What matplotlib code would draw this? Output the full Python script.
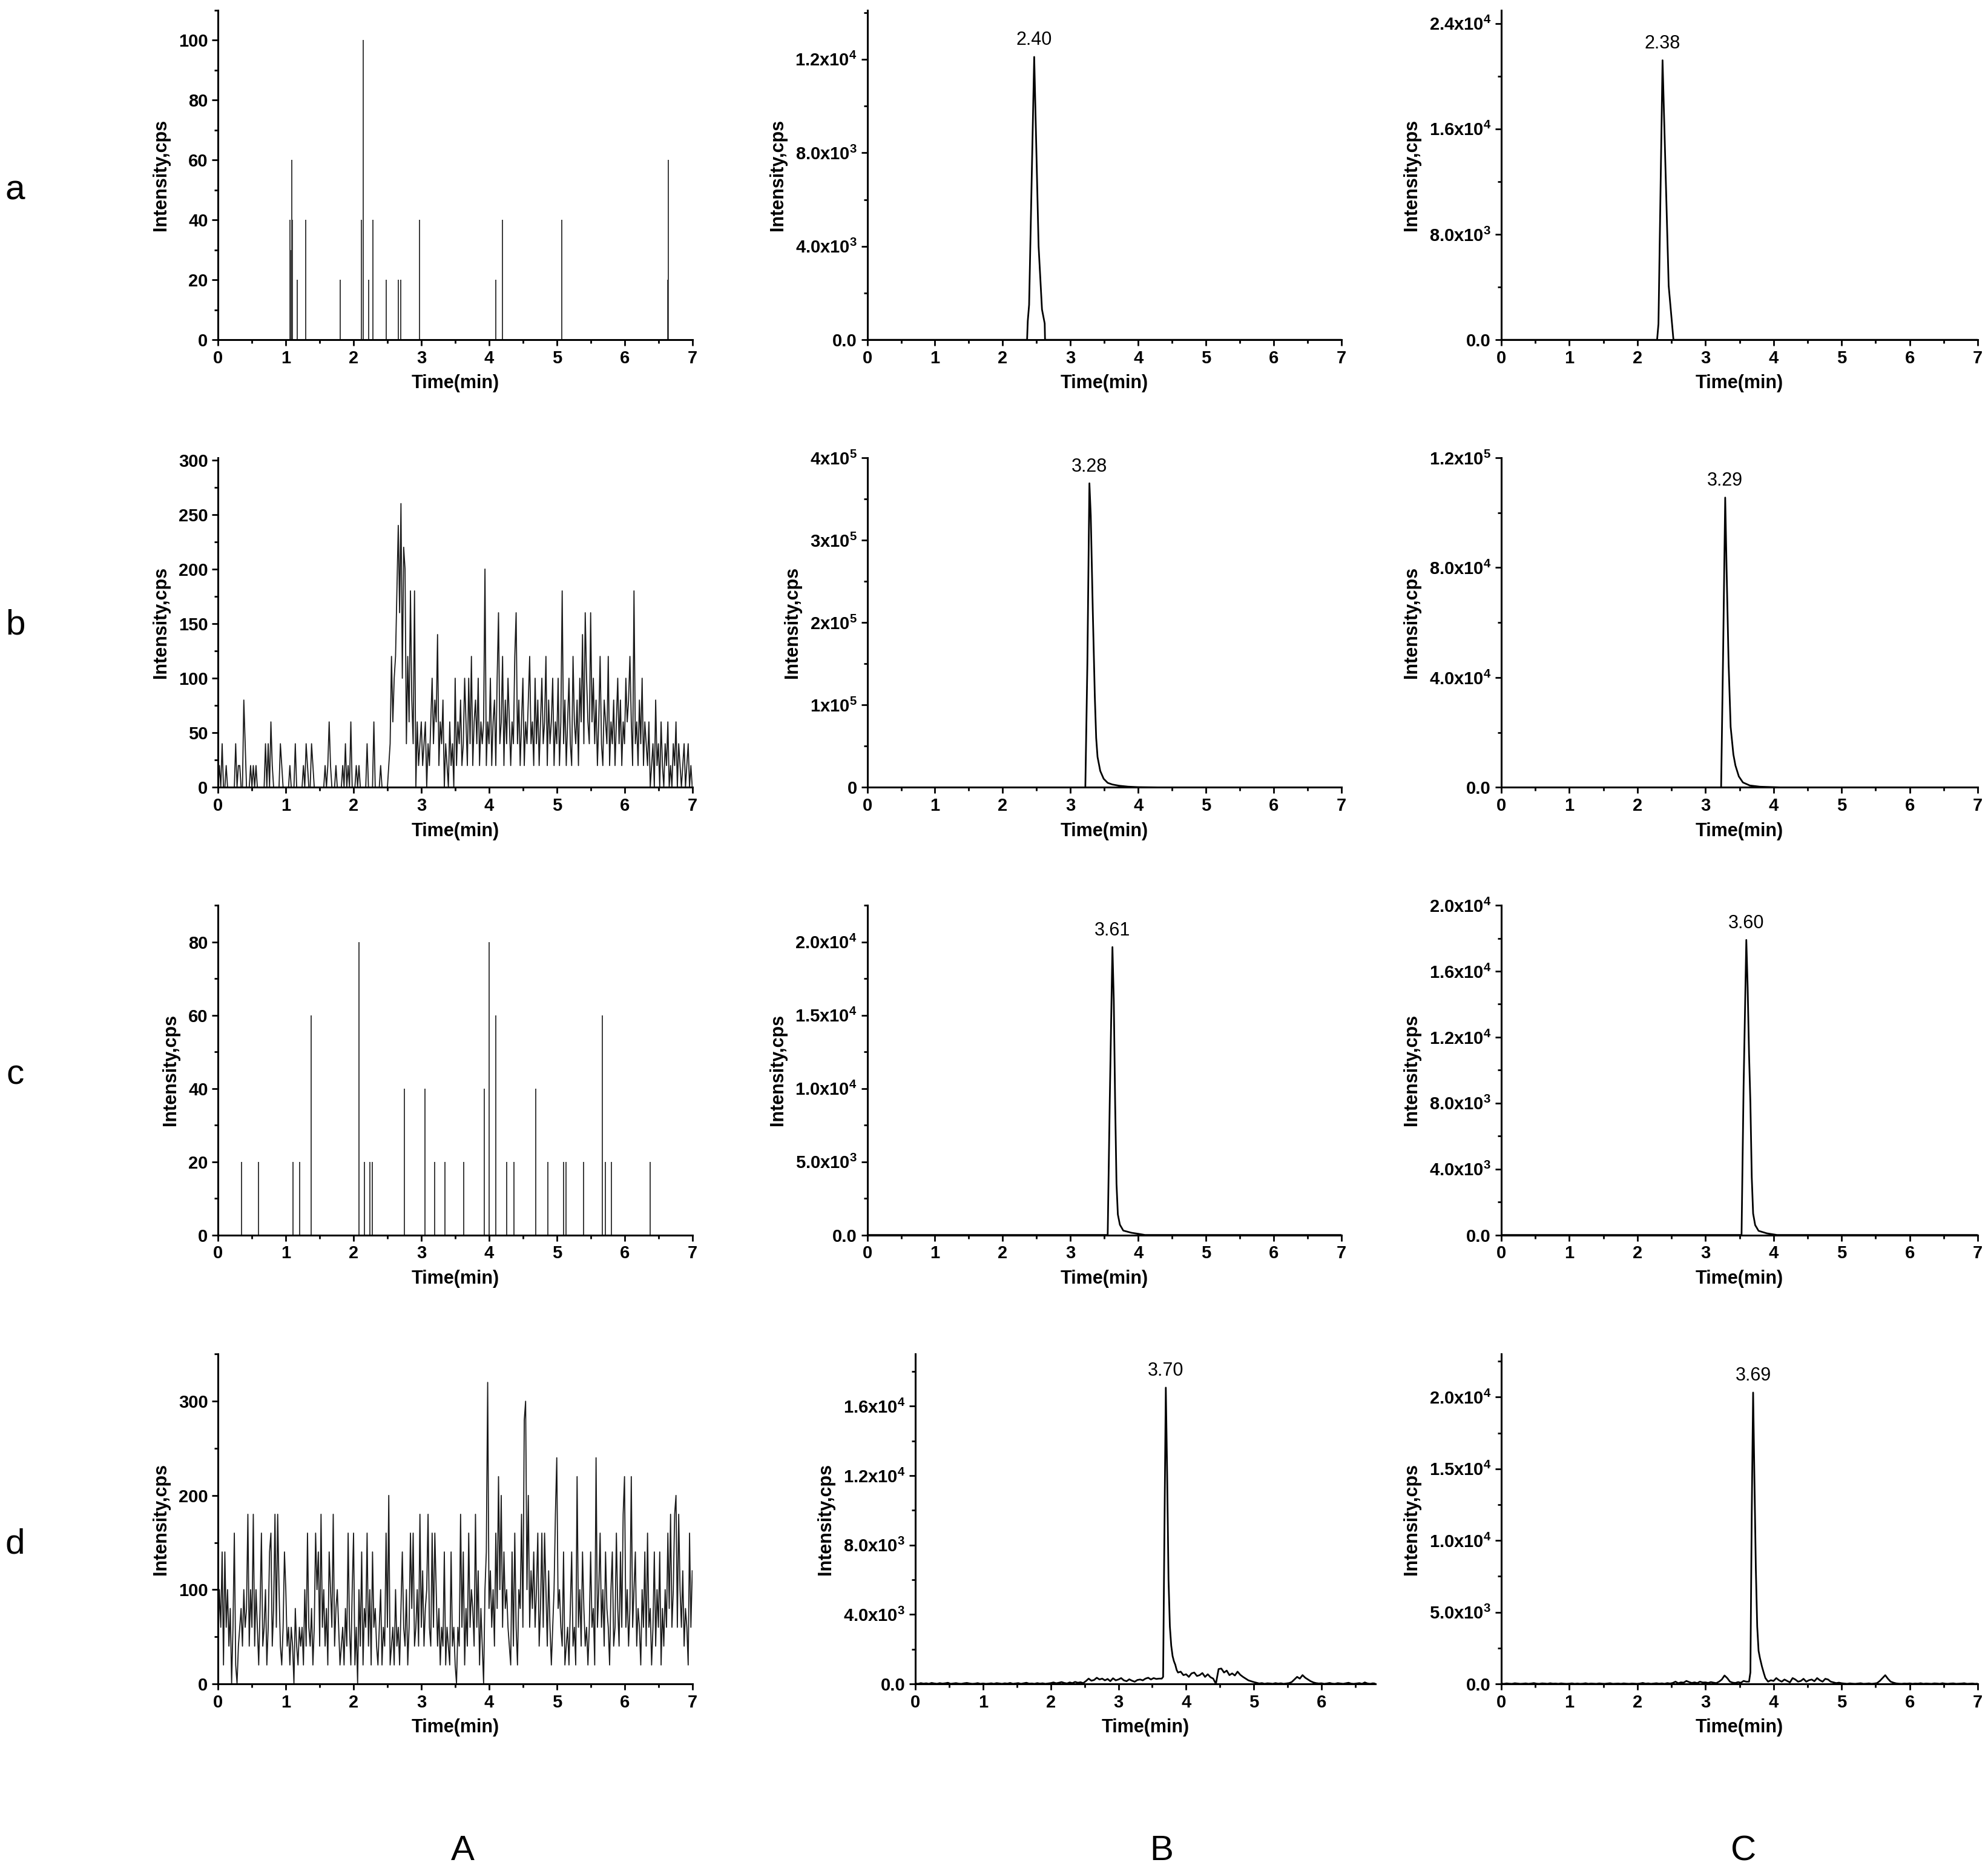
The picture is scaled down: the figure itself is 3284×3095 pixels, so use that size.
import numpy as np
import matplotlib
matplotlib.use('Agg')
import matplotlib.pyplot as plt
from matplotlib.ticker import FixedLocator, FixedFormatter, MultipleLocator

plt.rcParams['font.family'] = ['Liberation Sans', 'DejaVu Sans']
plt.rcParams['font.weight'] = 'bold'
plt.rcParams['mathtext.fontset'] = 'custom'
plt.rcParams['mathtext.rm'] = 'Liberation Sans'
plt.rcParams['mathtext.it'] = 'Liberation Sans:italic'
plt.rcParams['mathtext.bf'] = 'Liberation Sans:bold'

# ---------------- data ----------------
row_letters = ['a', 'b', 'c', 'd']
col_letters = ['A', 'B', 'C']

# Column A (blank noise)
aA_times = [1.06, 1.08, 1.09, 1.10, 1.17, 1.29, 1.80, 2.12, 2.14, 2.22, 2.29, 2.48,
            2.66, 2.70, 2.97, 4.10, 4.20, 5.07, 6.64, 6.65]
aA_heights = [40, 30, 60, 40, 20, 40, 20, 40, 100, 20, 40, 20,
              20, 20, 40, 20, 40, 40, 20, 60]

cA_times = [0.35, 0.60, 1.11, 1.20, 1.37, 2.08, 2.16, 2.24, 2.28, 2.75, 3.05, 3.20, 3.35,
            3.63, 3.93, 4.00, 4.10, 4.26, 4.37, 4.69, 4.87, 5.10, 5.14, 5.40, 5.67, 5.72,
            5.81, 6.38]
cA_heights = [20, 20, 20, 20, 60, 80, 20, 20, 20, 40, 40, 20, 20,
              20, 40, 80, 60, 20, 20, 40, 20, 20, 20, 20, 60, 20,
              20, 20]

bA_step = 0.02
bA_values = [
    0, 20, 0, 40, 0, 0, 20, 0, 0, 0, 0, 0, 0, 40, 0, 20, 20, 0, 0, 80, 40, 0, 0, 0, 20,
    0, 20, 0, 20, 0, 0, 0, 0, 0, 0, 40, 0, 40, 0, 60, 20, 0, 0, 0, 0, 0, 40, 20, 0, 0,
    0, 0, 0, 20, 0, 0, 0, 40, 0, 0, 0, 0, 0, 20, 0, 40, 20, 0, 0, 40, 20, 0, 0, 0, 0,
    0, 0, 0, 0, 20, 0, 20, 60, 20, 0, 0, 0, 20, 0, 0, 0, 0, 20, 0, 40, 0, 20, 0, 60, 0,
    0, 0, 20, 0, 20, 0, 0, 0, 0, 0, 40, 0, 0, 0, 0, 60, 0, 0, 0, 0, 20, 0, 0, 0, 0,
    0, 20, 40, 120, 60, 100, 120, 180, 240, 160, 260, 100, 220, 200, 40, 120, 60, 180, 80, 40, 180, 0, 60, 20, 40,
    60, 20, 40, 60, 0, 40, 20, 60, 100, 40, 80, 60, 140, 20, 60, 40, 80, 0, 40, 20, 0, 60, 20, 40, 0,
    100, 20, 60, 40, 80, 20, 40, 100, 60, 20, 100, 40, 120, 20, 60, 80, 40, 100, 20, 60, 40, 60, 200, 20, 60,
    40, 100, 20, 60, 80, 20, 100, 160, 40, 60, 120, 20, 80, 40, 100, 60, 20, 60, 40, 120, 160, 40, 80, 20, 60,
    100, 20, 60, 40, 80, 120, 40, 60, 20, 100, 40, 80, 20, 60, 100, 40, 60, 120, 20, 80, 40, 60, 100, 20, 60,
    40, 100, 20, 60, 180, 40, 80, 20, 60, 100, 40, 20, 120, 60, 40, 80, 20, 100, 60, 140, 40, 160, 100, 60, 40,
    160, 60, 100, 40, 80, 20, 60, 120, 40, 20, 80, 60, 40, 120, 20, 60, 40, 80, 20, 60, 100, 40, 80, 20, 60,
    40, 100, 60, 80, 120, 60, 20, 180, 40, 60, 20, 80, 40, 100, 20, 60, 40, 20, 60, 0, 20, 40, 0, 80, 20,
    40, 0, 60, 20, 0, 40, 20, 60, 0, 20, 0, 40, 20, 60, 0, 40, 20, 0, 20, 40, 0, 20, 40, 0, 20,
    0]

dA_step = 0.02
dA_values = [
    40, 100, 60, 140, 20, 140, 60, 100, 40, 80, 0, 60, 160, 20, 0, 40, 60, 80, 40, 100, 60, 80, 180, 40, 100,
    60, 180, 40, 100, 60, 20, 80, 160, 40, 60, 100, 20, 60, 140, 160, 40, 80, 180, 60, 180, 100, 40, 20, 60, 140,
    100, 40, 60, 20, 60, 40, 0, 80, 40, 20, 60, 40, 60, 20, 100, 40, 160, 60, 40, 80, 20, 60, 160, 100, 140,
    40, 180, 60, 100, 40, 80, 20, 140, 100, 60, 180, 40, 80, 100, 60, 20, 40, 60, 20, 80, 40, 160, 60, 20, 100,
    160, 20, 60, 0, 100, 40, 140, 20, 80, 60, 160, 40, 100, 20, 140, 60, 80, 40, 20, 60, 100, 20, 60, 40, 160,
    60, 200, 20, 40, 60, 20, 100, 40, 60, 20, 80, 140, 60, 40, 100, 20, 60, 160, 80, 160, 40, 60, 100, 40, 180,
    60, 120, 40, 80, 100, 180, 60, 40, 160, 60, 160, 100, 40, 80, 20, 60, 40, 140, 20, 60, 40, 20, 140, 40, 60,
    20, 0, 60, 40, 180, 60, 140, 20, 80, 40, 160, 60, 100, 80, 40, 180, 60, 120, 20, 80, 40, 0, 100, 140, 320,
    80, 120, 60, 100, 40, 160, 80, 220, 100, 200, 60, 140, 80, 100, 60, 40, 20, 140, 40, 160, 60, 20, 100, 80, 180,
    60, 280, 300, 100, 200, 60, 120, 80, 140, 60, 100, 160, 40, 80, 160, 60, 160, 100, 40, 120, 60, 20, 60, 100, 180,
    240, 80, 100, 60, 40, 140, 20, 40, 60, 20, 80, 140, 40, 60, 20, 220, 60, 100, 40, 140, 80, 40, 60, 20, 60,
    140, 60, 80, 20, 240, 60, 100, 160, 60, 100, 40, 140, 80, 60, 20, 100, 140, 40, 60, 160, 80, 40, 140, 60, 180,
    220, 60, 100, 40, 80, 220, 60, 100, 140, 40, 80, 60, 20, 100, 60, 140, 40, 160, 60, 80, 20, 60, 140, 40, 100,
    60, 140, 20, 80, 40, 100, 60, 160, 80, 180, 60, 100, 180, 200, 60, 180, 100, 60, 120, 40, 80, 60, 20, 160, 60,
    120]

# Columns B and C: peak profiles (time, intensity)
aB_t = [0, 2.36, 2.37, 2.39, 2.465, 2.53, 2.58, 2.62, 2.625, 7]
aB_y = [0, 0, 800, 1500, 12100, 4000, 1300, 700, 0, 0]
aC_t = [0, 2.29, 2.31, 2.37, 2.46, 2.53, 7]
aC_y = [0, 0, 1200, 21200, 4100, 0, 0]
bB_t = [0, 3.22, 3.25, 3.28, 3.30, 3.33, 3.36, 3.38, 3.40, 3.44, 3.49, 3.55, 3.62, 3.72, 3.85, 4.0, 4.3, 7]
bB_y = [0, 0, 150000, 369000, 330000, 214000, 110000, 60000, 37000, 20000, 10500, 5500, 3500, 2000, 900, 300, 0, 0]
bC_t = [0, 3.23, 3.26, 3.29, 3.31, 3.34, 3.37, 3.41, 3.44, 3.49, 3.55, 3.65, 3.8, 4.1, 7]
bC_y = [0, 0, 50000, 105500, 80000, 45000, 22000, 12000, 8000, 4000, 1800, 700, 250, 0, 0]
cB_t = [0, 3.55, 3.58, 3.62, 3.64, 3.66, 3.68, 3.70, 3.73, 3.78, 3.9, 4.0, 4.1, 7]
cB_y = [0, 0, 9000, 19650, 16000, 9000, 3500, 1400, 700, 300, 150, 80, 0, 0]
cC_t = [0, 3.53, 3.56, 3.60, 3.62, 3.64, 3.66, 3.68, 3.70, 3.73, 3.78, 3.9, 4.05, 7]
cC_y = [0, 0, 9000, 17900, 15000, 11000, 8000, 3500, 1300, 600, 250, 100, 0, 0]

dB_step = 0.04
dB_base = [
    20, 0, 40, 10, 30, 0, 50, 20, 0, 40, 10, 30, 60, 0, 20, 40, 10, 0, 30, 50, 20, 0, 10, 40, 0,
    20, 0, 10, 30, 0, 40, 20, 0, 30, 10, 50, 0, 20, 40, 0, 30, 60, 10, 20, 0, 40, 10, 30, 0, 20,
    40, 80, 30, 60, 100, 50, 20, 80, 40, 110, 60, 90, 40, 160, 300, 180, 220, 350, 250, 300, 200, 280, 150, 320, 200,
    250, 330, 200, 150, 260, 180, 120, 220, 250, 200, 300, 350, 250, 330, 280, 300, 300, 300, 300, 300, 300, 300, 300, 700, 500,
    550, 400, 600, 650, 450, 500, 620, 400, 550, 380, 300, 0, 850, 880, 650, 760, 500, 600, 480, 700, 520, 400, 300, 200, 150,
    100, 60, 20, 40, 0, 30, 20, 0, 40, 10, 30, 0, 20, 40, 100, 250, 400, 300, 500, 350, 250, 150, 80, 40, 20,
    30, 0, 20, 50, 10, 0, 40, 20, 0, 30, 60, 10, 0, 20, 40, 0, 80, 20, 0, 30, 10]
dB_pk_t = [3.64, 3.66, 3.68, 3.70, 3.72, 3.74, 3.76, 3.78, 3.80, 3.82, 3.84, 3.86, 3.88]
dB_pk_y = [300, 400, 9000, 17070, 12000, 6000, 3300, 2200, 1600, 1300, 1100, 800, 650]

dC_step = 0.04
dC_base = [
    20, 0, 30, 10, 0, 40, 20, 0, 10, 30, 0, 20, 50, 10, 0, 30, 20, 0, 40, 10, 20, 0, 30, 10, 0,
    10, 30, 0, 20, 0, 10, 40, 0, 20, 10, 0, 30, 10, 0, 20, 40, 0, 10, 20, 0, 30, 10, 0, 20, 10,
    0, 20, 60, 10, 30, 0, 20, 40, 10, 30, 0, 50, 20, 60, 150, 40, 100, 80, 200, 120, 60, 100, 50, 150, 90,
    100, 60, 120, 80, 50, 150, 300, 580, 400, 150, 80, 60, 120, 70, 200, 150, 100, 100, 100, 100, 100, 100, 100, 150, 250,
    200, 400, 250, 150, 300, 200, 100, 400, 300, 150, 200, 350, 150, 250, 300, 180, 400, 250, 150, 350, 300, 150, 100, 50, 80,
    40, 20, 0, 30, 10, 0, 20, 40, 0, 10, 30, 0, 20, 50, 200, 400, 600, 350, 150, 80, 30, 10, 0, 20, 10,
    30, 0, 20, 10, 40, 0, 20, 10, 0, 30, 20, 0, 40, 10, 0, 20, 30, 0, 10, 20, 40, 0, 10, 20, 0, 10]
dC_pk_t = [3.64, 3.66, 3.68, 3.70, 3.72, 3.74, 3.76, 3.78, 3.80, 3.83, 3.86, 3.88]
dC_pk_y = [150, 800, 12000, 20320, 14000, 8000, 4000, 2300, 1800, 1200, 700, 400]

peak_labels = {'aB': '2.40', 'aC': '2.38', 'bB': '3.28', 'bC': '3.29',
               'cB': '3.61', 'cC': '3.60', 'dB': '3.70', 'dC': '3.69'}

# y-axis ticks and labels per panel
yt = {
    'aA': ([0, 20, 40, 60, 80, 100], ['0', '20', '40', '60', '80', '100']),
    'aB': ([0, 4000, 8000, 12000], ['0.0', r'4.0x10$^{3}$', r'8.0x10$^{3}$', r'1.2x10$^{4}$']),
    'aC': ([0, 8000, 16000, 24000], ['0.0', r'8.0x10$^{3}$', r'1.6x10$^{4}$', r'2.4x10$^{4}$']),
    'bA': ([0, 50, 100, 150, 200, 250, 300], ['0', '50', '100', '150', '200', '250', '300']),
    'bB': ([0, 100000, 200000, 300000, 400000], ['0', r'1x10$^{5}$', r'2x10$^{5}$', r'3x10$^{5}$', r'4x10$^{5}$']),
    'bC': ([0, 40000, 80000, 120000], ['0.0', r'4.0x10$^{4}$', r'8.0x10$^{4}$', r'1.2x10$^{5}$']),
    'cA': ([0, 20, 40, 60, 80], ['0', '20', '40', '60', '80']),
    'cB': ([0, 5000, 10000, 15000, 20000], ['0.0', r'5.0x10$^{3}$', r'1.0x10$^{4}$', r'1.5x10$^{4}$', r'2.0x10$^{4}$']),
    'cC': ([0, 4000, 8000, 12000, 16000, 20000], ['0.0', r'4.0x10$^{3}$', r'8.0x10$^{3}$', r'1.2x10$^{4}$', r'1.6x10$^{4}$', r'2.0x10$^{4}$']),
    'dA': ([0, 100, 200, 300], ['0', '100', '200', '300']),
    'dB': ([0, 4000, 8000, 12000, 16000], ['0.0', r'4.0x10$^{3}$', r'8.0x10$^{3}$', r'1.2x10$^{4}$', r'1.6x10$^{4}$']),
    'dC': ([0, 5000, 10000, 15000, 20000], ['0.0', r'5.0x10$^{3}$', r'1.0x10$^{4}$', r'1.5x10$^{4}$', r'2.0x10$^{4}$']),
}
ymax = {'aA': 110, 'aB': 14100, 'aC': 25000, 'bA': 302, 'bB': 400000, 'bC': 120000,
        'cA': 90, 'cB': 22500, 'cC': 20000, 'dA': 350, 'dB': 19000, 'dC': 23000}
yminor = {'aA': 10, 'aB': 2000, 'aC': 4000, 'bA': 25, 'bB': 50000, 'bC': 20000,
          'cA': 10, 'cB': 2500, 'cC': 2000, 'dA': 50, 'dB': 2000, 'dC': 2500}
xmax = {k: 7.0 for k in yt}
xmax['dB'] = 6.8

# ---------------- layout ----------------
W, H = 3284, 3095
fig = plt.figure(figsize=(W / 100, H / 100), dpi=100)

col_left = {'A': 172 / 1568, 'B': 684 / 1568, 'C': 1184 / 1568}
col_w = {'A': 374 / 1568, 'B': 374 / 1568, 'C': 376 / 1568}
row_bottom = {'a': 1 - 268 / 1478, 'b': 1 - 621 / 1478, 'c': 1 - 974 / 1478, 'd': 1 - 1328 / 1478}
ax_h = 260 / 1478


def merge(step, base, pk_t, pk_y):
    bt = np.arange(len(base)) * step
    bv = np.asarray(base, float)
    m = (bt < pk_t[0] - 1e-6) | (bt > pk_t[-1] + 1e-6)
    t = np.concatenate([bt[m], pk_t])
    y = np.concatenate([bv[m], pk_y])
    o = np.argsort(t)
    return t[o], y[o]


def style(ax, key):
    ax.set_xlim(0, xmax[key])
    ax.set_ylim(0, ymax[key])
    for s in ['top', 'right']:
        ax.spines[s].set_visible(False)
    for s in ['left', 'bottom']:
        ax.spines[s].set_linewidth(2.2)
    xt = list(range(0, int(xmax[key]) + 1))
    ax.xaxis.set_major_locator(FixedLocator(xt))
    ax.xaxis.set_major_formatter(FixedFormatter([str(v) for v in xt]))
    ax.xaxis.set_minor_locator(MultipleLocator(0.5))
    ticks, labels = yt[key]
    ax.yaxis.set_major_locator(FixedLocator(ticks))
    ax.yaxis.set_major_formatter(FixedFormatter(labels))
    ax.yaxis.set_minor_locator(MultipleLocator(yminor[key]))
    ax.tick_params(which='major', direction='out', length=7, width=2, labelsize=21, pad=5)
    ax.tick_params(which='minor', direction='out', length=4.5, width=2)
    ax.set_xlabel('Time(min)', fontsize=22, fontweight='bold', labelpad=9)
    ax.set_ylabel('Intensity,cps', fontsize=22, fontweight='bold', labelpad=10)


axes = {}
for r in row_letters:
    for c in col_letters:
        key = r + c
        left, w = col_left[c], col_w[c]
        if key == 'dB':
            left, w = 722 / 1568, 363 / 1568
        axes[key] = fig.add_axes([left, row_bottom[r], w, ax_h])

# Column A
axes['aA'].vlines(aA_times, 0, aA_heights, colors='#3a3a3a', linewidth=1.4)
axes['cA'].vlines(cA_times, 0, cA_heights, colors='#3a3a3a', linewidth=1.4)
t = np.arange(len(bA_values)) * bA_step
axes['bA'].plot(t, bA_values, color='#1a1a1a', linewidth=1.3)
t = np.arange(len(dA_values)) * dA_step
axes['dA'].plot(t, dA_values, color='#1a1a1a', linewidth=1.3)

# Columns B, C
profiles = {'aB': (aB_t, aB_y), 'aC': (aC_t, aC_y), 'bB': (bB_t, bB_y), 'bC': (bC_t, bC_y),
            'cB': (cB_t, cB_y), 'cC': (cC_t, cC_y),
            'dB': merge(dB_step, dB_base, dB_pk_t, dB_pk_y),
            'dC': merge(dC_step, dC_base, dC_pk_t, dC_pk_y)}
for key, (tt, yy) in profiles.items():
    ax = axes[key]
    ax.plot(tt, yy, color='black', linewidth=2.0)
    yy = np.asarray(yy)
    i = int(np.argmax(yy))
    ax.annotate(peak_labels[key], xy=(np.asarray(tt)[i], yy[i]), xytext=(0, 9),
                textcoords='offset points', ha='center', va='bottom',
                fontsize=22, fontweight='normal')

for key, ax in axes.items():
    style(ax, key)

# Row and column letters
row_y = {'a': 150, 'b': 493, 'c': 848, 'd': 1218}
for r in row_letters:
    fig.text(12 / 1568, 1 - row_y[r] / 1478, r, fontsize=42, fontweight='normal',
             ha='center', va='center')
col_x = {'A': 365, 'B': 916, 'C': 1375}
for c in col_letters:
    fig.text(col_x[c] / 1568, 1 - 1460 / 1478, c, fontsize=42, fontweight='normal',
             ha='center', va='center')

fig.savefig('out.png', dpi=100, facecolor='white')
